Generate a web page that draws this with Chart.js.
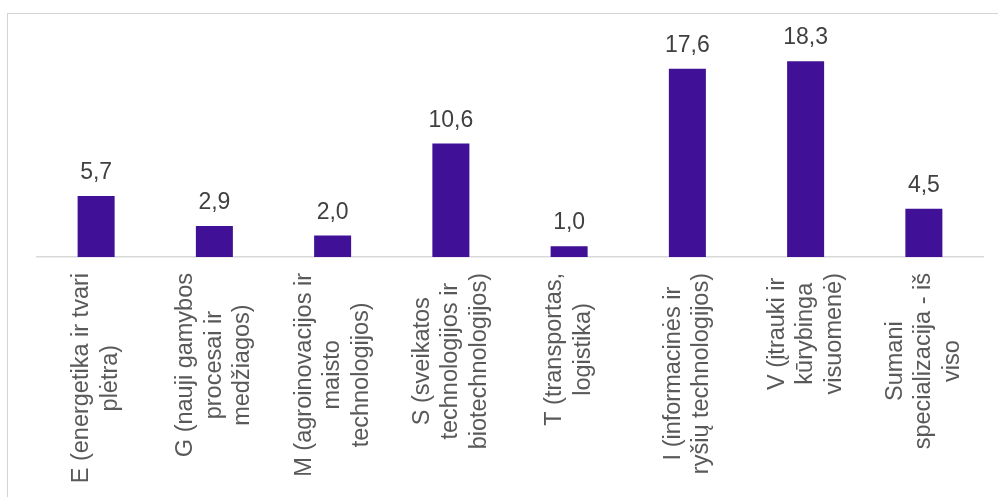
<!DOCTYPE html>
<html><head><meta charset="utf-8">
<script src="https://cdn.jsdelivr.net/npm/chart.js@4"></script>
<style>
html,body{margin:0;padding:0;background:#fff;overflow:hidden}
#wrap{position:relative;width:998px;height:497px;overflow:hidden}
#frame{position:absolute;left:7px;top:13px;width:1200px;height:700px;border-left:1px solid #d4d4d4;border-top:1px solid #d4d4d4;}
canvas{position:absolute;left:0;top:0}
</style></head><body>
<div id="wrap"><div id="frame"></div><canvas id="c" width="998" height="497"></canvas></div>
<script>
const categoryLines = [
  ['E (energetika ir tvari', 'plėtra)'],
  ['G (nauji gamybos', 'procesai ir', 'medžiagos)'],
  ['M (agroinovacijos ir', 'maisto', 'technologijos)'],
  ['S (sveikatos', 'technologijos ir', 'biotechnologijos)'],
  ['T (transportas,', 'logistika)'],
  ['I (informacinės ir', 'ryšių technologijos)'],
  ['V (įtrauki ir', 'kūrybinga', 'visuomenė)'],
  ['Sumani', 'specializacija - iš', 'viso']
];
const categories = categoryLines.map(l => l.join(' '));
const values = [5.7, 2.9, 2.0, 10.6, 1.0, 17.6, 18.3, 4.5];
const valueLabels = ['5,7', '2,9', '2,0', '10,6', '1,0', '17,6', '18,3', '4,5'];
const yTicks = [0, 20];

const labelPlugin = {
  id: 'labels',
  afterDatasetsDraw(chart) {
    const ctx = chart.ctx;
    const area = chart.chartArea;
    const meta = chart.getDatasetMeta(0);
    const xs = chart.scales.x;
    ctx.save();
    ctx.fillStyle = '#404040';
    ctx.font = '23px "Liberation Sans", Arial, sans-serif';
    ctx.textAlign = 'center';
    ctx.textBaseline = 'alphabetic';
    meta.data.forEach((bar, i) => {
      ctx.fillText(valueLabels[i], bar.x, bar.y - 17);
    });
    ctx.restore();

    ctx.save();
    ctx.fillStyle = '#595959';
    ctx.font = '23.5px "Liberation Sans", Arial, sans-serif';
    const lh = 28.5;
    categoryLines.forEach((lines, i) => {
      const x = xs.getPixelForTick(i);
      const maxW = Math.max(...lines.map(l => ctx.measureText(l).width));
      const cy = area.bottom + 16 + maxW / 2;
      const n = lines.length;
      ctx.save();
      ctx.translate(x, cy);
      ctx.rotate(-Math.PI / 2);
      ctx.textAlign = 'center';
      ctx.textBaseline = 'middle';
      lines.forEach((l, j) => ctx.fillText(l, 0, (j - (n - 1) / 2) * lh));
      ctx.restore();
    });
    ctx.restore();
  }
};

new Chart(document.getElementById('c'), {
  type: 'bar',
  data: {
    labels: categories,
    datasets: [{
      data: values,
      backgroundColor: '#401096',
      borderWidth: 0,
      barPercentage: 0.313,
      categoryPercentage: 1
    }]
  },
  options: {
    responsive: false,
    animation: false,
    layout: { padding: { left: 37, right: 15, top: 43, bottom: 240 } },
    plugins: { legend: { display: false }, tooltip: { enabled: false } },
    scales: {
      x: {
        offset: true,
        grid: { display: false, drawTicks: false },
        border: { display: true, color: '#d9d9d9', width: 1.5 },
        ticks: { display: false }
      },
      y: {
        display: false,
        min: yTicks[0],
        max: yTicks[1]
      }
    }
  },
  plugins: [labelPlugin]
});
</script>
</body></html>
